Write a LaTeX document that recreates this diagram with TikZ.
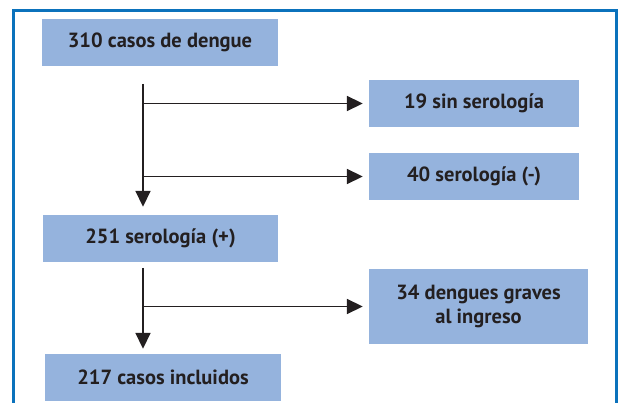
\documentclass[tikz,border=0pt]{standalone}
\usepackage{fontspec}
\setmainfont{PT Sans}
\usetikzlibrary{arrows.meta}
\definecolor{boxfill}{HTML}{95B3DD}
\definecolor{framecol}{HTML}{0B72BC}
\definecolor{txt}{HTML}{231F20}
\tikzset{
  flowbox/.style={fill=boxfill, draw=none, inner sep=0pt, minimum width=#1, minimum height=47pt, align=center, text=txt, font=\fontsize{20.5}{23.5}\selectfont\bfseries},
  flowbox/.default=236pt,
  conn/.style={draw=txt, line width=1.8pt},
  arr/.style={conn, -{Triangle[length=16pt,width=15pt]}}
}
\begin{document}
\begin{tikzpicture}[x=1pt,y=-1pt]
\useasboundingbox (0,0) rectangle (618,403);
\fill[white] (0,0) rectangle (618,403);
\draw[framecol, line width=3pt] (13.5,410) -- (13.5,10.5) -- (616.5,10.5) -- (616.5,410);
\node[flowbox=236pt] (b1) at (160,42.5) {310 casos de dengue};
\node[flowbox=210pt] (b2) at (474,103.5) {19 sin serología};
\node[flowbox=210pt] (b3) at (474,176.5) {40 serología (-)};
\node[flowbox=235pt] (b4) at (160.5,238.5) {251 serología (+)};
\node[flowbox=219pt, minimum height=75pt] (b5) at (478.5,306.5) {34 dengues graves\\al ingreso};
\node[flowbox=236pt] (b6) at (163,377.5) {217 casos incluidos};
\coordinate (s1) at (143,84);
\coordinate (s2) at (143,268);
\draw[arr, shorten >=8pt] (s1) -- (s1 |- b4.north);
\draw[arr, shorten >=6pt] (s1 |- b2.west) -- (b2.west);
\draw[arr, shorten >=6pt] (s1 |- b3.west) -- (b3.west);
\draw[arr, shorten >=5pt] (s2) -- (s2 |- b6.north);
\draw[arr, shorten >=6pt] (s2 |- b5.west) -- (b5.west);
\end{tikzpicture}
\end{document}
